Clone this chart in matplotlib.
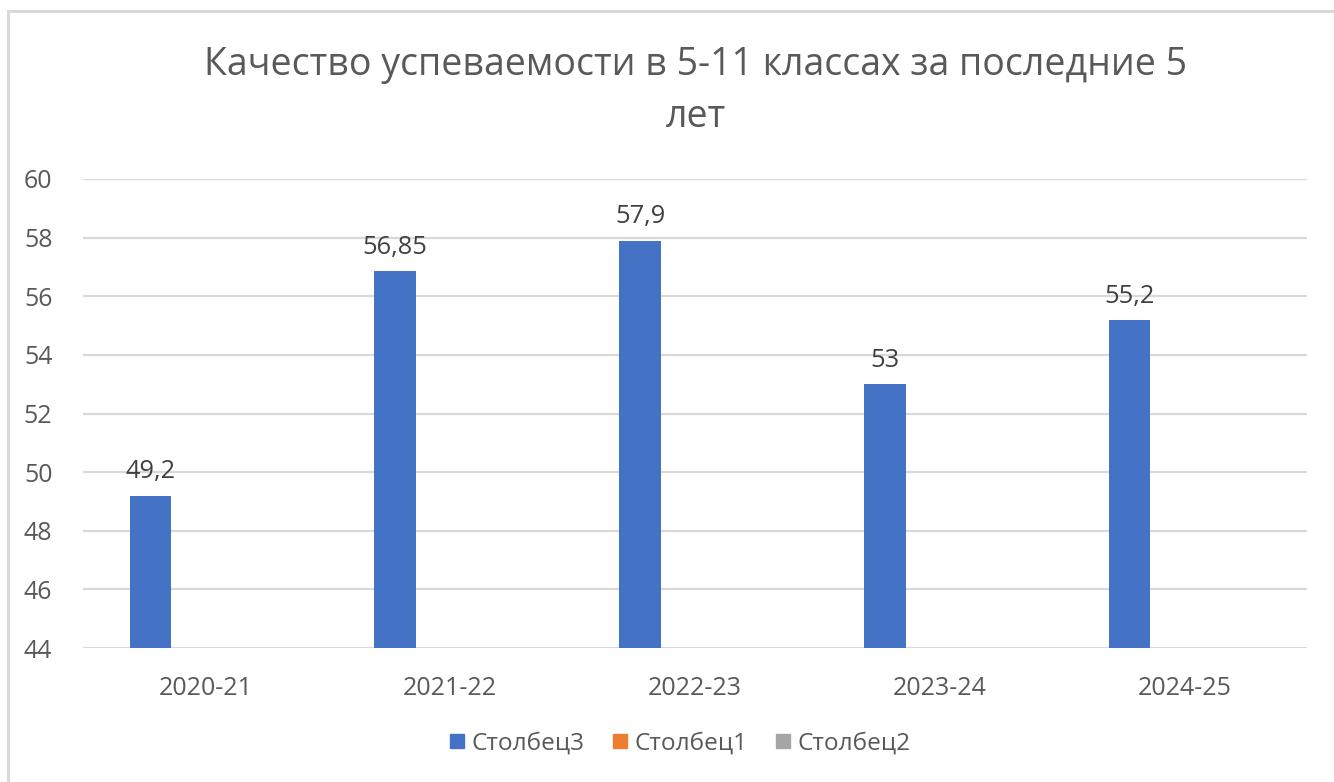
import numpy as np
import matplotlib.pyplot as plt
from matplotlib.lines import Line2D
from matplotlib.patches import Rectangle

years = ["2020-21", "2021-22", "2022-23", "2023-24", "2024-25"]
stolbec3 = [49.2, 56.85, 57.9, 53, 55.2]
stolbec1 = [np.nan] * 5
stolbec2 = [np.nan] * 5
value_labels = ["49,2", "56,85", "57,9", "53", "55,2"]
series_names = ["Столбец3", "Столбец1", "Столбец2"]
colors = ["#4472C4", "#ED7D31", "#A5A5A5"]

plt.rcParams['font.family'] = ['Open Sans', 'DejaVu Sans']

fig = plt.figure(figsize=(13.34, 7.82), dpi=100)
W, H = 1334, 782
ax = fig.add_axes([83 / W, 1 - 648 / H, (1307 - 83) / W, (648 - 179) / H])

# chart frame (only top and left edges visible)
fig.add_artist(Rectangle((8 / W, -0.2), 2, 1.2 - 11 / H, transform=fig.transFigure,
                         fill=False, edgecolor="#D9D9D9", lw=2.2))

x = np.arange(len(years))
bw = 0.17
off = 0.2245
for i, (vals, c) in enumerate(zip([stolbec3, stolbec1, stolbec2], colors)):
    ax.bar(x + (i - 1) * off, vals, width=bw, color=c, zorder=3)

for xi, v, lab in zip(x, stolbec3, value_labels):
    ax.annotate(lab, (xi - off, v), xytext=(0, 8), textcoords="offset points",
                ha="center", va="bottom", fontsize=18.3, color="#404040")

ax.set_xlim(-0.5, 4.5)
ax.set_ylim(44, 60)
ax.set_yticks(np.arange(44, 61, 2))
ax.set_xticks(x)
ax.set_xticklabels(years)
ax.grid(axis="y", color="#D9D9D9", lw=1.6, zorder=0)
for s in ax.spines.values():
    s.set_visible(False)
ax.tick_params(axis="both", length=0, labelsize=18, labelcolor="#595959")
ax.tick_params(axis="y", pad=22)
ax.tick_params(axis="x", pad=20)

fig.text(696 / W, 1 - 65 / H, "Качество успеваемости в 5-11 классах за последние 5",
         ha="center", va="center", fontsize=27, color="#595959")
fig.text(696 / W, 1 - 117 / H, "лет", ha="center", va="center", fontsize=27, color="#595959")

handles = [Line2D([], [], marker="s", ls="", markersize=9.5, color=c) for c in colors]
fig.legend(handles, series_names, loc="center", bbox_to_anchor=(680 / W, 1 - 744 / H),
           ncol=3, frameon=False, fontsize=17.6, labelcolor="#595959",
           handlelength=0.6, handletextpad=0.3, columnspacing=1.15)

fig.savefig("out.png", dpi=100)
